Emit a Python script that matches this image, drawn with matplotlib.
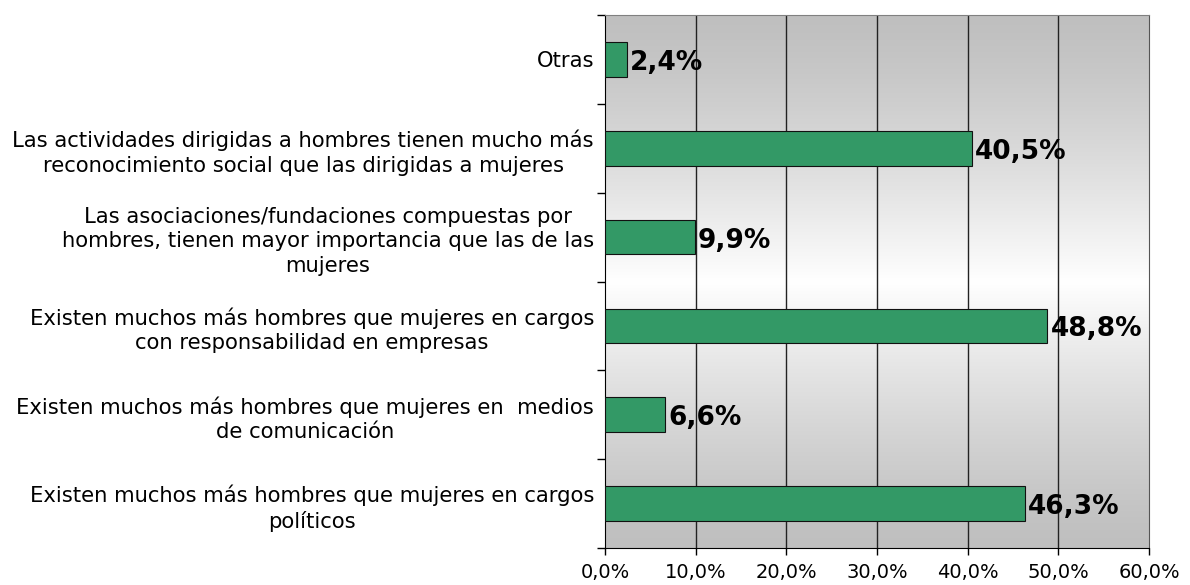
import matplotlib
matplotlib.use("Agg")
import matplotlib.pyplot as plt
import numpy as np

# categories from top to bottom
categories = [
    "Otras",
    "Las actividades dirigidas a hombres tienen mucho más\nreconocimiento social que las dirigidas a mujeres",
    "Las asociaciones/fundaciones compuestas por\nhombres, tienen mayor importancia que las de las\nmujeres",
    "Existen muchos más hombres que mujeres en cargos\ncon responsabilidad en empresas",
    "Existen muchos más hombres que mujeres en  medios\nde comunicación",
    "Existen muchos más hombres que mujeres en cargos\npolíticos",
]
values = [2.4, 40.5, 9.9, 48.8, 6.6, 46.3]
value_labels = ["2,4%", "40,5%", "9,9%", "48,8%", "6,6%", "46,3%"]
x_ticks = [0, 10, 20, 30, 40, 50, 60]
x_tick_labels = ["0,0%", "10,0%", "20,0%", "30,0%", "40,0%", "50,0%", "60,0%"]

plt.rcParams['font.family'] = ['DejaVu Sans']

fig = plt.figure(figsize=(11.9, 5.85), dpi=100)
ax = fig.add_axes([605 / 1190, 37 / 585, (1149 - 605) / 1190, (548 - 15) / 585])

n = len(categories)
ypos = np.arange(n)[::-1]

# gradient background: grey at top and bottom, white in the middle
t = np.linspace(0, 1, 256)
g = 0.75 + 0.25 * np.clip(1 - np.abs(t - 0.5) / 0.5, 0, 1) ** 1.3
grad = np.dstack([g, g, g])[0][:, None, :]
ax.imshow(grad, extent=[0, 60, -0.5, n - 0.5], aspect='auto', origin='upper', zorder=0)

ax.barh(ypos, values, height=0.39, color='#339966', edgecolor='#111111', linewidth=0.8, zorder=3)

for y, v, lab in zip(ypos, values, value_labels):
    ax.text(v + 0.35, y - 0.04, lab, va='center', ha='left', fontsize=19, fontweight='bold', zorder=4)

ax.set_xlim(0, 60)
ax.set_ylim(-0.5, n - 0.5)

ax.set_xticks(x_ticks)
ax.set_xticklabels(x_tick_labels, fontsize=14)
ax.tick_params(axis='x', direction='out', length=5, width=1, pad=6)

# boundary ticks on y, labels at centres
ax.set_yticks(np.arange(n + 1) - 0.5)
ax.set_yticklabels([])
ax.set_yticks(ypos, minor=True)
ax.set_yticklabels(categories, minor=True, fontsize=15.2, multialignment='center', linespacing=1.3)
ax.tick_params(axis='y', which='major', direction='out', length=6, width=1)
ax.tick_params(axis='y', which='minor', length=0, pad=8)

for x in x_ticks[1:-1]:
    ax.axvline(x, color='#222222', linewidth=1, zorder=1)

ax.spines['top'].set_color('#808080')
ax.spines['right'].set_color('#555555')
ax.spines['left'].set_color('black')
ax.spines['bottom'].set_color('black')

fig.savefig("out.png", dpi=100)
